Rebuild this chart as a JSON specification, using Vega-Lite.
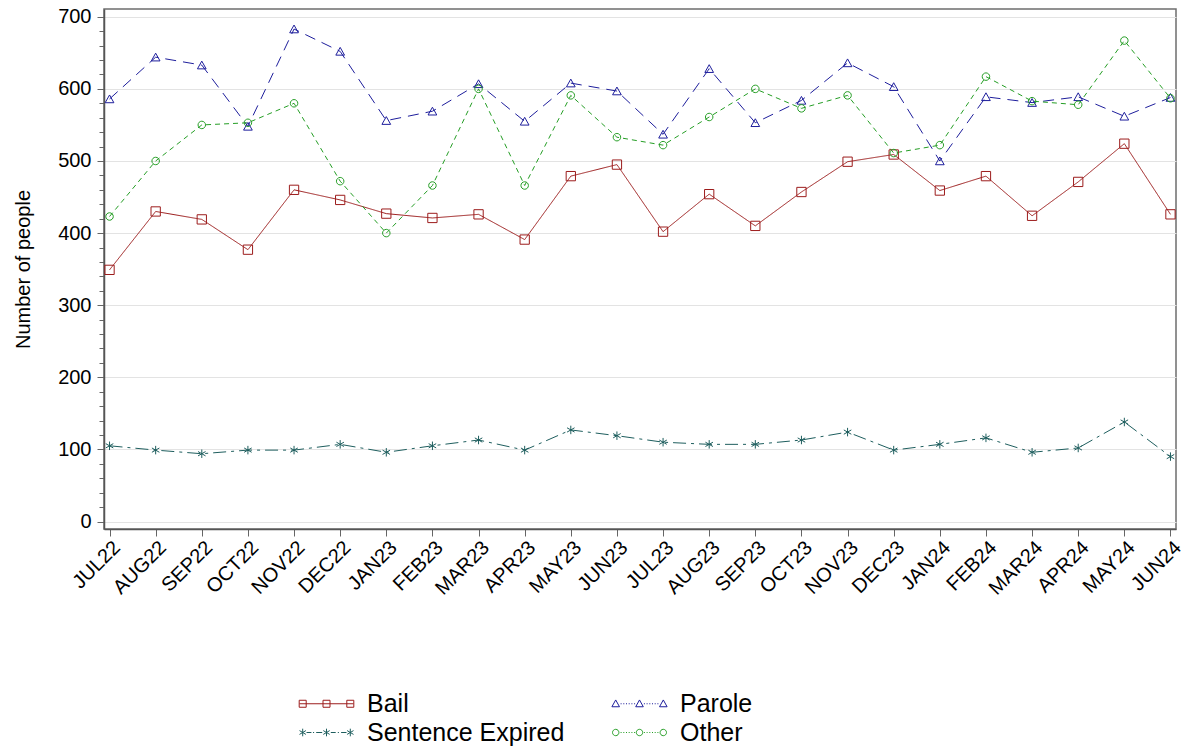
{
  "$schema": "https://vega.github.io/schema/vega-lite/v6.json",
  "width": 1072,
  "height": 520,
  "autosize": {"type": "none"},
  "padding": {"left": 104, "top": 9, "right": 11, "bottom": 222},
  "background": "white",
  "config": {
    "font": "Liberation Sans",
    "view": {"stroke": "#6e6e6e", "strokeWidth": 1.5},
    "axis": {"labelColor": "#000", "titleColor": "#000", "domainColor": "#555", "tickColor": "#666", "domainWidth": 1.5, "tickWidth": 1}
  },
  "data": {"values": [
    {"m":"JUL22","s":"Bail","v":349},{"m":"AUG22","s":"Bail","v":430},{"m":"SEP22","s":"Bail","v":419},{"m":"OCT22","s":"Bail","v":377},{"m":"NOV22","s":"Bail","v":460},{"m":"DEC22","s":"Bail","v":446},{"m":"JAN23","s":"Bail","v":427},{"m":"FEB23","s":"Bail","v":421},{"m":"MAR23","s":"Bail","v":426},{"m":"APR23","s":"Bail","v":391},{"m":"MAY23","s":"Bail","v":479},{"m":"JUN23","s":"Bail","v":495},{"m":"JUL23","s":"Bail","v":402},{"m":"AUG23","s":"Bail","v":454},{"m":"SEP23","s":"Bail","v":410},{"m":"OCT23","s":"Bail","v":457},{"m":"NOV23","s":"Bail","v":499},{"m":"DEC23","s":"Bail","v":509},{"m":"JAN24","s":"Bail","v":459},{"m":"FEB24","s":"Bail","v":479},{"m":"MAR24","s":"Bail","v":424},{"m":"APR24","s":"Bail","v":471},{"m":"MAY24","s":"Bail","v":524},{"m":"JUN24","s":"Bail","v":426},
    {"m":"JUL22","s":"Parole","v":586},{"m":"AUG22","s":"Parole","v":644},{"m":"SEP22","s":"Parole","v":633},{"m":"OCT22","s":"Parole","v":548},{"m":"NOV22","s":"Parole","v":683},{"m":"DEC22","s":"Parole","v":652},{"m":"JAN23","s":"Parole","v":556},{"m":"FEB23","s":"Parole","v":569},{"m":"MAR23","s":"Parole","v":607},{"m":"APR23","s":"Parole","v":555},{"m":"MAY23","s":"Parole","v":608},{"m":"JUN23","s":"Parole","v":597},{"m":"JUL23","s":"Parole","v":537},{"m":"AUG23","s":"Parole","v":628},{"m":"SEP23","s":"Parole","v":553},{"m":"OCT23","s":"Parole","v":584},{"m":"NOV23","s":"Parole","v":636},{"m":"DEC23","s":"Parole","v":603},{"m":"JAN24","s":"Parole","v":500},{"m":"FEB24","s":"Parole","v":589},{"m":"MAR24","s":"Parole","v":581},{"m":"APR24","s":"Parole","v":589},{"m":"MAY24","s":"Parole","v":562},{"m":"JUN24","s":"Parole","v":588},
    {"m":"JUL22","s":"Sentence Expired","v":105},{"m":"AUG22","s":"Sentence Expired","v":99},{"m":"SEP22","s":"Sentence Expired","v":94},{"m":"OCT22","s":"Sentence Expired","v":99},{"m":"NOV22","s":"Sentence Expired","v":99},{"m":"DEC22","s":"Sentence Expired","v":107},{"m":"JAN23","s":"Sentence Expired","v":96},{"m":"FEB23","s":"Sentence Expired","v":105},{"m":"MAR23","s":"Sentence Expired","v":113},{"m":"APR23","s":"Sentence Expired","v":99},{"m":"MAY23","s":"Sentence Expired","v":127},{"m":"JUN23","s":"Sentence Expired","v":119},{"m":"JUL23","s":"Sentence Expired","v":110},{"m":"AUG23","s":"Sentence Expired","v":107},{"m":"SEP23","s":"Sentence Expired","v":107},{"m":"OCT23","s":"Sentence Expired","v":113},{"m":"NOV23","s":"Sentence Expired","v":124},{"m":"DEC23","s":"Sentence Expired","v":99},{"m":"JAN24","s":"Sentence Expired","v":107},{"m":"FEB24","s":"Sentence Expired","v":116},{"m":"MAR24","s":"Sentence Expired","v":96},{"m":"APR24","s":"Sentence Expired","v":102},{"m":"MAY24","s":"Sentence Expired","v":138},{"m":"JUN24","s":"Sentence Expired","v":90},
    {"m":"JUL22","s":"Other","v":423},{"m":"AUG22","s":"Other","v":500},{"m":"SEP22","s":"Other","v":550},{"m":"OCT22","s":"Other","v":553},{"m":"NOV22","s":"Other","v":580},{"m":"DEC22","s":"Other","v":472},{"m":"JAN23","s":"Other","v":400},{"m":"FEB23","s":"Other","v":466},{"m":"MAR23","s":"Other","v":600},{"m":"APR23","s":"Other","v":466},{"m":"MAY23","s":"Other","v":591},{"m":"JUN23","s":"Other","v":533},{"m":"JUL23","s":"Other","v":522},{"m":"AUG23","s":"Other","v":561},{"m":"SEP23","s":"Other","v":600},{"m":"OCT23","s":"Other","v":573},{"m":"NOV23","s":"Other","v":591},{"m":"DEC23","s":"Other","v":511},{"m":"JAN24","s":"Other","v":522},{"m":"FEB24","s":"Other","v":617},{"m":"MAR24","s":"Other","v":583},{"m":"APR24","s":"Other","v":578},{"m":"MAY24","s":"Other","v":667},{"m":"JUN24","s":"Other","v":587}
  ]},
  "transform": [{"calculate": "'k_' + datum.s", "as": "k"}],
  "encoding": {
    "x": {"field": "m", "type": "ordinal", "sort": null,
      "scale": {"type": "point", "padding": 0.12},
      "axis": {"title": null, "labelAngle": -45, "labelFontSize": 20, "tickSize": 7, "labelPadding": 1, "grid": false}},
    "y": {"field": "v", "type": "quantitative",
      "scale": {"domain": [-10.4, 710.8], "nice": false, "zero": false},
      "axis": {"title": "Number of people", "titleFontSize": 20, "titleFontWeight": "normal", "titlePadding": 24,
        "values": [0,20,40,60,80,100,120,140,160,180,200,220,240,260,280,300,320,340,360,380,400,420,440,460,480,500,520,540,560,580,600,620,640,660,680,700],
        "labelExpr": "datum.value % 100 === 0 ? datum.label : ''",
        "labelFontSize": 20, "labelPadding": 6,
        "tickSize": {"condition": {"test": "datum.value % 100 === 0", "value": 7}, "value": 5},
        "grid": true, "gridColor": "#e3e3e3", "gridWidth": 1,
        "gridOpacity": {"condition": {"test": "datum.value % 100 === 0", "value": 1}, "value": 0}}},
    "color": {"field": "s", "type": "nominal",
      "scale": {"domain": ["Bail", "Parole", "Sentence Expired", "Other"], "range": ["#9c1c1c", "#1e1e9c", "#1e5e5e", "#259e25"]},
      "legend": {"title": null, "orient": "none", "legendX": 210, "legendY": 682, "direction": "horizontal", "columns": 2,
        "labelFontSize": 25, "labelColor": "#000", "labelOffset": 28, "symbolSize": 400, "symbolStrokeWidth": 1,
        "columnPadding": 44, "rowPadding": 3, "padding": 0, "labelLimit": 400,
        "encode": {"symbols": {"update": {
          "size": {"value": 400},
          "strokeWidth": {"value": 1},
          "fill": {"value": "transparent"},
          "shape": {"signal": "datum.value === 'Bail' ? 'M-2.7,0L2.7,0M-2.73,-0.35h0.7v0.7h-0.7zM-0.35,-0.35h0.7v0.7h-0.7zM2.03,-0.35h0.7v0.7h-0.7z' : datum.value === 'Parole' ? 'M-2.38,-0.38L-2,0.3L-2.76,0.3ZM0,-0.38L0.38,0.3L-0.38,0.3ZM2.38,-0.38L2.76,0.3L2,0.3ZM-1.89,0h0.1M-1.62,0h0.1M-1.35,0h0.1M-1.08,0h0.1M-0.81,0h0.1M-0.54,0h0.1M0.44,0h0.1M0.71,0h0.1M0.98,0h0.1M1.25,0h0.1M1.52,0h0.1M1.79,0h0.1' : datum.value === 'Sentence Expired' ? 'M-2.38,-0.38V0.38M-2.7,-0.19L-2.06,0.19M-2.7,0.19L-2.06,-0.19M0,-0.38V0.38M-0.32,-0.19L0.32,0.19M-0.32,0.19L0.32,-0.19M2.38,-0.38V0.38M2.06,-0.19L2.7,0.19M2.06,0.19L2.7,-0.19M-2,0H-1.51M-1.35,0H-1.24M-1.03,0H-0.43M0.43,0H0.92M1.13,0H1.24M1.46,0H2' : 'M-2.7,0a0.32,0.32 0 1,0 0.64,0a0.32,0.32 0 1,0 -0.64,0M-0.32,0a0.32,0.32 0 1,0 0.64,0a0.32,0.32 0 1,0 -0.64,0M2.06,0a0.32,0.32 0 1,0 0.64,0a0.32,0.32 0 1,0 -0.64,0M-1.89,0h0.1M-1.62,0h0.1M-1.35,0h0.1M-1.08,0h0.1M-0.81,0h0.1M-0.54,0h0.1M0.44,0h0.1M0.71,0h0.1M0.98,0h0.1M1.25,0h0.1M1.52,0h0.1M1.79,0h0.1'"}
        }}}}
    }
  },
  "layer": [
    {
      "mark": {"type": "line", "strokeWidth": 1},
      "encoding": {
        "strokeDash": {"field": "k", "type": "nominal",
          "scale": {"domain": ["k_Bail", "k_Parole", "k_Sentence Expired", "k_Other"], "range": [[1, 0], [11, 7], [13, 5, 3, 5], [5, 4]]},
          "legend": null}
      }
    },
    {
      "mark": {"type": "point", "filled": false, "strokeWidth": 1, "size": 100, "opacity": 1},
      "encoding": {
        "shape": {"field": "k", "type": "nominal",
          "scale": {"domain": ["k_Bail", "k_Parole", "k_Sentence Expired", "k_Other"],
            "range": ["M-0.93,-0.93H0.93V0.93H-0.93Z", "M0,-0.8L0.87,0.75L-0.87,0.75Z", "M0,-0.85L0,0.85M-0.75,-0.43L0.75,0.43M-0.75,0.43L0.75,-0.43", "M-0.75,0A0.75,0.75 0 1,0 0.75,0A0.75,0.75 0 1,0 -0.75,0Z"]},
          "legend": null}
      }
    }
  ]
}
